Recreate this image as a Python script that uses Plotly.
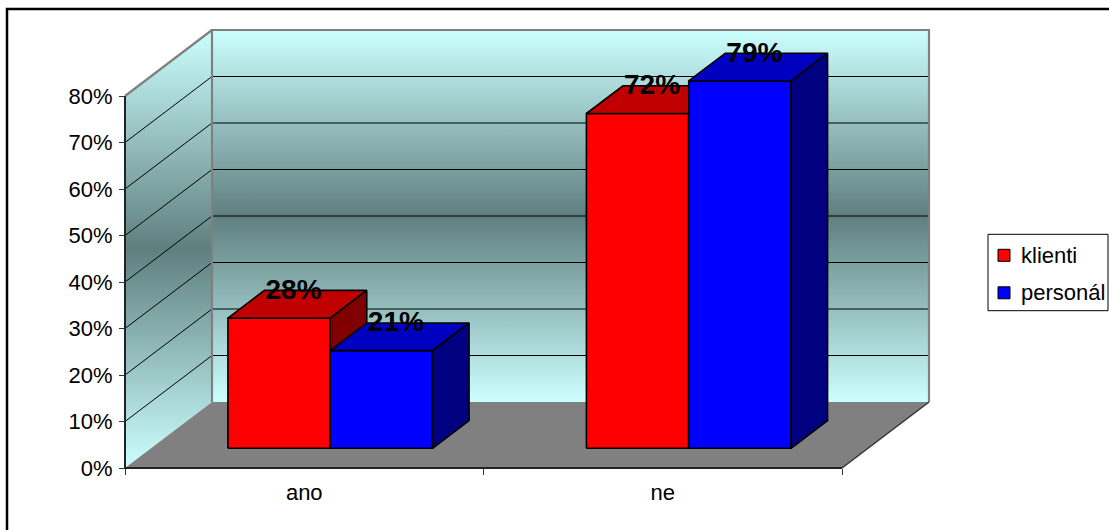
import plotly.graph_objects as go

# --- data -------------------------------------------------------------
CATEGORIES = ["ano", "ne"]
SERIES = ["klienti", "personál"]
KLIENTI = [28, 72]
PERSONAL = [21, 79]
Y_TICKS = [0, 10, 20, 30, 40, 50, 60, 70, 80]
Y_TICK_TEXT = ["0%", "10%", "20%", "30%", "40%", "50%", "60%", "70%", "80%"]

VALUES = [KLIENTI, PERSONAL]
FRONT_COLORS = ["#FF0000", "#0000FF"]
TOP_COLORS = ["#C00000", "#0000C0"]
SIDE_COLORS = ["#800000", "#000080"]

# --- projection setup (figure pixels -> axis units) ---------------------
W, H = 1109, 530
ORIGIN_X, ORIGIN_Y = 125, 468        # front-left corner of the floor
PX_PER_CAT = 358.5                   # pixels per category slot
PX_PER_PCT = 4.65                    # pixels per percentage point
DEPTH_PX = (87, 66)                  # oblique depth offset of the box

DX = DEPTH_PX[0] / PX_PER_CAT        # depth offset in x units
DY = DEPTH_PX[1] / PX_PER_PCT        # depth offset in y units
Y_MAX = Y_TICKS[-1]
N = len(CATEGORIES)

BAR_W = 102.3 / PX_PER_CAT           # width of one column
FRONT_GAP = 0.2985                   # share of depth in front of the columns
BAR_DEPTH = 0.42                     # share of depth taken by a column

FONT = "Arial, 'Liberation Sans', sans-serif"

fig = go.Figure()


def poly(xs, ys, **kw):
    fig.add_trace(go.Scatter(x=list(xs) + [xs[0]], y=list(ys) + [ys[0]],
                             mode="lines", fill="toself", hoverinfo="skip",
                             showlegend=False, **kw))


def path(xs, ys, color, width):
    fig.add_trace(go.Scatter(x=xs, y=ys, mode="lines", hoverinfo="skip",
                             showlegend=False,
                             line=dict(color=color, width=width)))


wall_grad = dict(type="vertical",
                 colorscale=[[0, "#CCFFFF"], [0.5, "#5F7F7F"], [1, "#CCFFFF"]])

# side wall
poly([0, DX, DX, 0], [0, DY, DY + Y_MAX, Y_MAX],
     line=dict(width=0), fillgradient=wall_grad)
# back wall
poly([DX, N + DX, N + DX, DX], [DY, DY, DY + Y_MAX, DY + Y_MAX],
     line=dict(width=0), fillgradient=wall_grad)
# floor
poly([0, N, N + DX, DX], [0, 0, DY, DY],
     line=dict(width=0), fillcolor="#808080")

# gridlines across side and back wall
gx, gy = [], []
for v in Y_TICKS[1:-1]:
    gx += [0, DX, N + DX, None]
    gy += [v, DY + v, DY + v, None]
path(gx, gy, "#000000", 1)

# wall borders
path([DX, DX, N + DX, N + DX], [DY, DY + Y_MAX, DY + Y_MAX, DY], "#808080", 2.2)
path([0, DX], [Y_MAX, DY + Y_MAX], "#808080", 2.2)
# floor edges
path([N, N + DX], [0, DY], "#333333", 1.5)
path([0, N], [0, 0], "#222222", 2)
path([0, 0], [0, Y_MAX], "#222222", 2)

# --- columns ------------------------------------------------------------
lab_x, lab_y, lab_t = [], [], []
for c in range(N):
    for s in range(len(SERIES)):
        v = VALUES[s][c]
        x0 = c + 0.5 - BAR_W + s * BAR_W + FRONT_GAP * DX
        x1 = x0 + BAR_W
        y0 = FRONT_GAP * DY
        y1 = y0 + v
        ddx, ddy = BAR_DEPTH * DX, BAR_DEPTH * DY
        edge = dict(color="#000000", width=1.6)
        poly([x0, x1, x1, x0], [y0, y0, y1, y1],
             fillcolor=FRONT_COLORS[s], line=edge)
        poly([x0, x1, x1 + ddx, x0 + ddx], [y1, y1, y1 + ddy, y1 + ddy],
             fillcolor=TOP_COLORS[s], line=edge)
        poly([x1, x1 + ddx, x1 + ddx, x1], [y0, y0 + ddy, y1 + ddy, y1],
             fillcolor=SIDE_COLORS[s], line=edge)
        lab_x.append((x0 + x1) / 2 + 14.5 / PX_PER_CAT)
        lab_y.append(y1 + ddy - 1.5 / PX_PER_PCT)
        lab_t.append(f"{v}%")

fig.add_trace(go.Scatter(x=lab_x, y=lab_y, text=lab_t, mode="text",
                         textposition="middle center", hoverinfo="skip",
                         showlegend=False, cliponaxis=False,
                         textfont=dict(family=FONT, size=28, color="#000000",
                                       weight="bold")))

# --- axes ---------------------------------------------------------------
x_range = [-ORIGIN_X / PX_PER_CAT, (W - ORIGIN_X) / PX_PER_CAT]
y_range = [(ORIGIN_Y - H) / PX_PER_PCT, ORIGIN_Y / PX_PER_PCT]

fig.update_xaxes(range=x_range, showgrid=False, zeroline=False, showline=False,
                 tickmode="array", tickvals=[i + 0.5 for i in range(N)],
                 ticktext=CATEGORIES, ticks="", anchor="free",
                 position=(H - ORIGIN_Y) / H, ticklabelstandoff=9,
                 tickfont=dict(family=FONT, size=22, color="#000000"),
                 minor=dict(tickmode="array", tickvals=list(range(N + 1)),
                            ticks="outside", ticklen=6, tickcolor="#333333",
                            tickwidth=1, showgrid=False))
fig.update_yaxes(range=y_range, showgrid=False, zeroline=False, showline=False,
                 tickmode="array", tickvals=Y_TICKS, ticktext=Y_TICK_TEXT,
                 ticks="outside", ticklen=6, tickcolor="#333333", tickwidth=1,
                 anchor="free", position=ORIGIN_X / W, ticklabelstandoff=2,
                 tickfont=dict(family=FONT, size=22, color="#000000"))

# --- legend box and chart frame -------------------------------------------
def px(x):
    return x / W


def py(y):
    return 1 - y / H


shapes = [
    dict(type="rect", xref="paper", yref="paper", x0=px(7), x1=1.02,
         y0=-0.02, y1=py(9), line=dict(color="#000000", width=2.5)),
    dict(type="rect", xref="paper", yref="paper", x0=px(988), x1=px(1108),
         y0=py(310.7), y1=py(234.3), line=dict(color="#000000", width=1),
         fillcolor="#FFFFFF"),
]
annotations = []
for i, name in enumerate(SERIES):
    top = 249.3 + i * 37.5
    shapes.append(dict(type="rect", xref="paper", yref="paper",
                       x0=px(998), x1=px(1010), y0=py(top + 12), y1=py(top),
                       fillcolor=FRONT_COLORS[i],
                       line=dict(color="#000000", width=1)))
    annotations.append(dict(xref="paper", yref="paper", x=px(1019),
                            y=py(top + 6), text=name, showarrow=False,
                            xanchor="left", yanchor="middle",
                            font=dict(family=FONT, size=22, color="#000000")))

fig.update_layout(width=W, height=H, autosize=False,
                  margin=dict(l=0, r=0, t=0, b=0, pad=0),
                  paper_bgcolor="#FFFFFF", plot_bgcolor="#FFFFFF",
                  showlegend=False, shapes=shapes, annotations=annotations)

fig.write_html("out.html")
